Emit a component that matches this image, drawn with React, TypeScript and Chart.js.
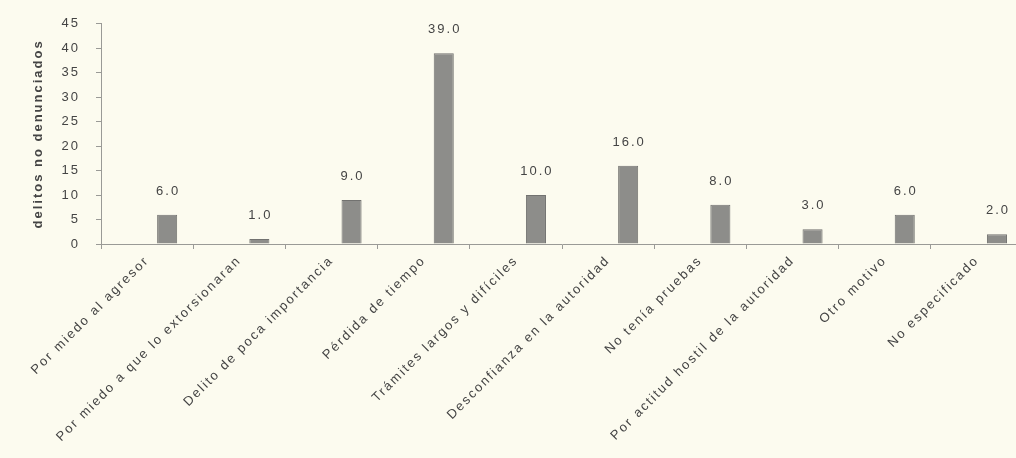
import React, { useEffect, useRef } from "react";
import { Chart, registerables } from "chart.js";

Chart.register(...registerables);

const categories = [
  "Por miedo al agresor",
  "Por miedo a que lo extorsionaran",
  "Delito de poca importancia",
  "Pérdida de tiempo",
  "Trámites largos y difíciles",
  "Desconfianza en la autoridad",
  "No tenía pruebas",
  "Por actitud hostil de la autoridad",
  "Otro motivo",
  "No especificado",
];
const values = [6.0, 1.0, 9.0, 39.0, 10.0, 16.0, 8.0, 3.0, 6.0, 2.0];
const emptySeries = categories.map(() => null);
const yTitle = "delitos no denunciados";

const FONT = "'Liberation Sans', Arial, sans-serif";
const BG = "#fcfbef";
const TEXT = "#444444";
const AXIS = "#9a9a96";

const spacingPlugin = {
  id: "spacing",
  beforeUpdate(chart: any) {
    chart.ctx.letterSpacing = "2px";
  },
  beforeDraw(chart: any) {
    const ctx = chart.ctx;
    ctx.letterSpacing = "2px";
    ctx.save();
    ctx.fillStyle = BG;
    ctx.fillRect(0, 0, chart.width, chart.height);
    ctx.restore();
  },
};

const valueLabels = {
  id: "valueLabels",
  afterDatasetsDraw(chart: any) {
    const ctx = chart.ctx;
    const meta = chart.getDatasetMeta(1);
    ctx.save();
    ctx.font = `13px ${FONT}`;
    ctx.fillStyle = TEXT;
    ctx.textAlign = "center";
    ctx.textBaseline = "bottom";
    meta.data.forEach((bar: any, i: number) => {
      const v = values[i];
      ctx.fillText(v.toFixed(1), bar.x + 1, bar.y - 17);
    });
    ctx.restore();
  },
};

export default function App() {
  const ref = useRef<HTMLCanvasElement>(null);
  useEffect(() => {
    if (!ref.current) return;
    const chart = new Chart(ref.current, {
      type: "bar",
      data: {
        labels: categories,
        datasets: [
          {
            label: "",
            data: emptySeries as any,
            backgroundColor: "rgba(0,0,0,0)",
          },
          {
            label: yTitle,
            data: values,
            backgroundColor: "#8d8d8a",
            borderColor: "#727270",
            borderWidth: 1,
          },
        ],
      },
      options: {
        animation: false,
        responsive: true,
        maintainAspectRatio: false,
        categoryPercentage: 0.87,
        barPercentage: 0.5,
        layout: { padding: { top: 22, right: 1, bottom: 0, left: 0 } },
        plugins: {
          legend: { display: false },
          tooltip: { enabled: false },
        },
        scales: {
          x: {
            grid: {
              display: true,
              drawOnChartArea: false,
              drawTicks: true,
              tickLength: 5,
              color: AXIS,
              offset: true,
            },
            border: { display: true, color: AXIS },
            ticks: {
              autoSkip: false,
              maxRotation: 45,
              minRotation: 45,
              padding: 4,
              color: TEXT,
              font: { family: FONT, size: 13 },
            },
            afterFit(scale: any) {
              scale.height = 214;
            },
          },
          y: {
            min: 0,
            max: 45,
            ticks: {
              stepSize: 5,
              padding: 16,
              color: TEXT,
              font: { family: FONT, size: 13 },
            },
            grid: {
              display: true,
              drawOnChartArea: false,
              drawTicks: true,
              tickLength: 5,
              color: AXIS,
            },
            border: { display: true, color: AXIS },
            title: {
              display: true,
              text: yTitle,
              color: TEXT,
              font: { family: FONT, size: 13, weight: "bold" },
              padding: { top: 31, bottom: 0 },
            },
            afterFit(scale: any) {
              scale.width = 101;
            },
          },
        },
      },
      plugins: [spacingPlugin, valueLabels],
    });
    return () => chart.destroy();
  }, []);
  return (
    <div
      style={{
        position: "absolute",
        left: 0,
        top: 0,
        width: 1024,
        height: 458,
        background: BG,
      }}
    >
      <canvas ref={ref} />
    </div>
  );
}
